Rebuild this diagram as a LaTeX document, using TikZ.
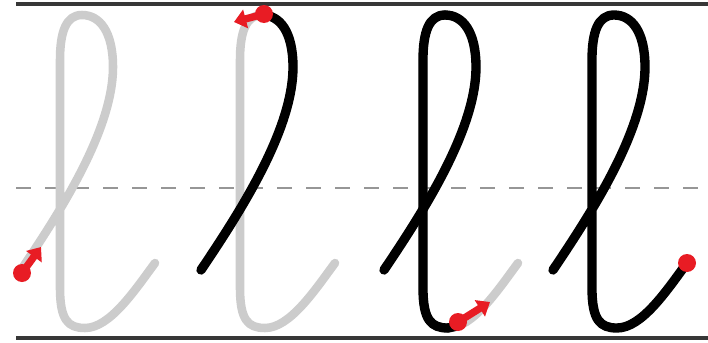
\documentclass[tikz,border=0pt]{standalone}
\usetikzlibrary{arrows.meta}
\definecolor{pinred}{RGB}{232,28,36}
\definecolor{ghostgray}{RGB}{204,204,204}
\definecolor{rulegray}{RGB}{55,55,55}
\definecolor{midgray}{RGB}{150,150,150}
\begin{document}
\begin{tikzpicture}[x=0.75pt,y=-0.75pt,
  letterstroke/.style={line width=7pt,line cap=round,line join=round},
  ghoststroke/.style={letterstroke,draw=ghostgray,line width=6.4pt},
  inkstroke/.style={letterstroke,draw=black},
  ruleline/.style={draw=rulegray,line width=2.4pt},
  midline/.style={draw=midgray,line width=2.2pt,dash pattern=on 11.25pt off 10.5pt},
  pinarrow/.style={draw=pinred,line width=5.5pt,-{Triangle[length=9pt,width=14pt]}},
  pindot/.style={fill=pinred},
  upstroke/.style={insert path={(-39,270) .. controls (0,212) and (53,130) .. (53,67)
      .. controls (53,32) and (40,15) .. (22,15)}},
  downstroke/.style={insert path={(22,15) .. controls (6,15) and (0,32) .. (0,60)
      -- (0,288) .. controls (0,320) and (8,328) .. (25,328)}},
  fullletter/.style={insert path={(-39,270) .. controls (0,212) and (53,130) .. (53,67)
      .. controls (53,32) and (40,15) .. (22,15)
      .. controls (6,15) and (0,32) .. (0,60)
      -- (0,288) .. controls (0,320) and (8,328) .. (25,328)
      .. controls (50,328) and (75,290) .. (95,263)}}
]
\useasboundingbox (0,0) rectangle (708,343);
\fill[white] (0,0) rectangle (708,343);

% guide lines
\coordinate (topL) at (16,4);
\coordinate (topR) at (708,4);
\coordinate (midL) at (16,188);
\coordinate (midR) at (708,188);
\coordinate (botL) at (16,338);
\coordinate (botR) at (708,338);
\draw[ruleline] (topL) -- (topR);
\draw[midline] (midL) -- (midR);
\draw[ruleline] (botL) -- (botR);

% letter 1
\begin{scope}[shift={(60,0)}]
  \draw[ghoststroke,fullletter];
  \coordinate (p1c) at (-38,273);
  \coordinate (p1t) at (-19,247);
  \fill[pindot] (p1c) circle (9);
  \draw[pinarrow] (p1c) -- (p1t);
\end{scope}

% letter 2
\begin{scope}[shift={(240,0)}]
  \draw[ghoststroke,fullletter];
  \draw[inkstroke,upstroke];
  \coordinate (p2c) at (24,14);
  \coordinate (p2t) at (-6,22);
  \fill[pindot] (p2c) circle (9);
  \draw[pinarrow] (p2c) -- (p2t);
\end{scope}

% letter 3
\begin{scope}[shift={(423,0)}]
  \draw[ghoststroke,fullletter];
  \draw[inkstroke,upstroke];
  \draw[inkstroke,downstroke];
  \coordinate (b3) at (25,328);
  \coordinate (e3) at (34,326);
  \draw[inkstroke] (b3) -- (e3);
  \coordinate (p3c) at (35,322);
  \coordinate (p3t) at (67,302);
  \fill[pindot] (p3c) circle (9);
  \draw[pinarrow] (p3c) -- (p3t);
\end{scope}

% letter 4
\begin{scope}[shift={(592,0)}]
  \draw[inkstroke,fullletter];
  \coordinate (p4c) at (95,263);
  \fill[pindot] (p4c) circle (9);
\end{scope}
\end{tikzpicture}
\end{document}
